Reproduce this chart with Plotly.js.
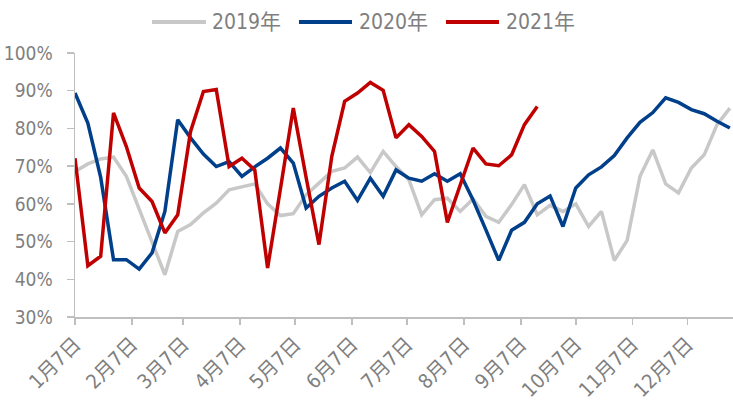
<!DOCTYPE html>
<html>
<head>
<meta charset="utf-8">
<script src="https://cdn.plot.ly/plotly-3.0.1.min.js"></script>
<style>html,body{margin:0;padding:0;background:#fff;}#chart{width:733px;height:409px;}</style>
</head>
<body>
<div id="chart"></div>
<script>
// Weekly dates (common year used only to place points on the month axis)
var weeks = ['2021-01-07','2021-01-14','2021-01-21','2021-01-28','2021-02-04','2021-02-11','2021-02-18','2021-02-25',
 '2021-03-04','2021-03-11','2021-03-18','2021-03-25','2021-04-01','2021-04-08','2021-04-15','2021-04-22','2021-04-29',
 '2021-05-06','2021-05-13','2021-05-20','2021-05-27','2021-06-03','2021-06-10','2021-06-17','2021-06-24',
 '2021-07-01','2021-07-08','2021-07-15','2021-07-22','2021-07-29','2021-08-05','2021-08-12','2021-08-19','2021-08-26',
 '2021-09-02','2021-09-09','2021-09-16','2021-09-23','2021-09-30','2021-10-07','2021-10-14','2021-10-21','2021-10-28',
 '2021-11-04','2021-11-11','2021-11-18','2021-11-25','2021-12-02','2021-12-09','2021-12-16','2021-12-23','2021-12-30'];

var values2019 = [68.6,70.6,71.9,72.4,67.3,58.4,49.6,41.2,52.7,54.5,57.6,60.2,63.7,64.6,65.3,60,56.9,57.4,62.4,65.5,
 68.6,69.5,72.4,68.3,73.9,69.9,66.4,57.1,61.1,61.5,58,61.3,56.7,55.1,59.8,65.1,57.1,59.6,58,60,54,58,45,50.3,
 67.3,74.3,65.3,62.9,69.5,73,81,85.4];

var values2020 = [89.4,81.4,67,45.2,45.2,42.7,47,58,82.3,77.5,73.2,69.9,71.2,67.3,69.8,72.1,74.8,70.8,58.9,62,
 64.2,66,60.9,66.8,62,69,66.8,66,68,66,68,61,53.1,45,53,55.1,60,62.1,54,64.2,67.7,69.8,72.8,77.5,81.6,84.2,
 88.1,86.9,85,83.9,81.9,80.1];

var values2021 = [72.1,43.6,46.1,84.1,75.2,64.2,60.6,52.3,57.1,79.2,89.8,90.3,69.9,72.1,69,43,64,85.4,67,49.2,
 72.6,87.2,89.4,92.2,90.1,77.5,81,77.9,73.9,55.1,65,74.8,70.6,70.1,73,81,85.8];

var seriesNames = ['2019年','2020年','2021年'];
var tickDates = ['2021-01-07','2021-02-07','2021-03-07','2021-04-07','2021-05-07','2021-06-07',
 '2021-07-07','2021-08-07','2021-09-07','2021-10-07','2021-11-07','2021-12-07'];
var tickLabels = ['1月7日','2月7日','3月7日','4月7日','5月7日','6月7日','7月7日','8月7日','9月7日','10月7日','11月7日','12月7日'];

var FONT = '"DejaVu Sans Condensed", "Noto Sans CJK SC", sans-serif';
var colors = ['#c8c8c8','#003f8a','#c00000'];
var allVals = [values2019, values2020, values2021];

var traces = allVals.map(function(v, i){
  return {
    x: weeks.slice(0, v.length), y: v, name: seriesNames[i], type: 'scatter', mode: 'lines',
    line: {color: colors[i], width: 3.5}, hoverinfo: 'skip', showlegend: false
  };
});

// Legend drawn as key lines + labels above the plot (paper coordinates)
var legendLine = [[0.117, 0.199], [0.3404, 0.421], [0.5638, 0.6444]];
var legendText = [0.2052, 0.4286, 0.6520];
var legendY = 1.117;
var shapes = [], annotations = [];
seriesNames.forEach(function(n, i){
  shapes.push({type: 'line', xref: 'paper', yref: 'paper', x0: legendLine[i][0], x1: legendLine[i][1],
    y0: legendY, y1: legendY, line: {color: colors[i], width: 4}});
  annotations.push({xref: 'paper', yref: 'paper', x: legendText[i], y: legendY, xanchor: 'left', yanchor: 'middle',
    text: n, showarrow: false, font: {family: FONT, size: 21, color: '#7f7f7f'}});
});

var layout = {
  width: 733, height: 409,
  margin: {l: 75, r: 0, t: 53, b: 92},
  paper_bgcolor: '#fff', plot_bgcolor: '#fff',
  font: {family: FONT, color: '#7f7f7f', size: 20},
  showlegend: false,
  shapes: shapes, annotations: annotations,
  xaxis: {
    type: 'date', range: ['2021-01-07', '2021-12-31 17:00'],
    tickmode: 'array', tickvals: tickDates, ticktext: tickLabels, tickangle: -45,
    tickfont: {family: FONT, size: 20, color: '#7f7f7f'},
    showline: true, linecolor: '#bfbfbf', linewidth: 1.5, ticks: 'outside', ticklen: 6, tickcolor: '#bfbfbf', tickwidth: 1.5,
    showgrid: false, zeroline: false, fixedrange: true
  },
  yaxis: {
    range: [30, 100], dtick: 10, tick0: 30, ticksuffix: '%',
    tickfont: {family: FONT, size: 19, color: '#7f7f7f'},
    ticklabelstandoff: 10,
    showline: true, linecolor: '#bfbfbf', linewidth: 1.5, ticks: 'outside', ticklen: 7, tickcolor: '#bfbfbf', tickwidth: 1.5,
    showgrid: false, zeroline: false, fixedrange: true
  }
};

Plotly.newPlot('chart', traces, layout, {displayModeBar: false, staticPlot: true});
</script>
</body>
</html>
